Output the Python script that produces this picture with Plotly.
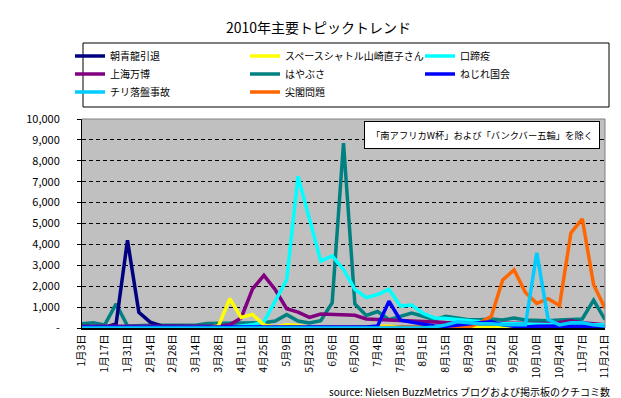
import plotly.graph_objects as go
import datetime as dt

# ---- data (weekly, 2010-01-03 .. 2010-11-21) ----
start = dt.date(2010, 1, 3)
n_weeks = 47
week_labels = [f"{(start + dt.timedelta(days=7*i)).month}月{(start + dt.timedelta(days=7*i)).day}日" for i in range(n_weeks)]

asashoryu = [50, 30, 30, 200, 4200, 750, 280, 100, 80, 60, 50, 50, 40, 40, 40, 30, 30, 30, 30, 30,
             30, 30, 30, 30, 30, 30, 30, 30, 30, 30, 30, 30, 30, 30, 30, 30, 30, 30, 80, 80,
             80, 80, 80, 60, 50, 50, 40]
shuttle = [20, 20, 20, 20, 20, 20, 20, 20, 20, 20, 20, 30, 100, 1400, 500, 650, 150, 50, 150, 120,
           30, 20, 20, 20, 20, 20, 80, 80, 20, 20, 20, 20, 20, 20, 20, 20, 20, 20, 20, 20,
           20, 20, 20, 20, 20, 20, 20]
koteieki = [0, 0, 0, 0, 0, 0, 0, 0, 0, 0, 0, 0, 0, 0, 100, 150, 300, 1300, 2300, 7250,
            5200, 3200, 3450, 2800, 1850, 1450, 1600, 1850, 1050, 1100, 700, 480, 450, 400, 350, 300, 250, 200, 200, 180,
            180, 170, 160, 160, 150, 150, 150]
shanghai = [80, 80, 80, 80, 80, 80, 80, 80, 80, 80, 80, 80, 80, 150, 480, 1870, 2520, 1830, 920, 760,
            510, 670, 640, 650, 610, 430, 400, 380, 350, 320, 300, 280, 260, 250, 240, 230, 220, 250, 200, 200,
            220, 230, 260, 350, 250, 200, 150]
hayabusa = [200, 250, 150, 1150, 100, 130, 130, 130, 130, 130, 130, 220, 230, 230, 230, 250, 250, 330, 640, 330,
            240, 350, 1200, 8850, 1150, 600, 790, 400, 560, 720, 560, 400, 560, 480, 400, 400, 430, 380, 480, 380,
            350, 350, 380, 400, 430, 1330, 400]
nejire = [50, 50, 50, 50, 50, 50, 50, 50, 50, 50, 50, 50, 50, 50, 50, 50, 50, 50, 50, 50,
          50, 50, 50, 50, 50, 50, 100, 1280, 370, 270, 200, 100, 80, 150, 200, 250, 300, 150, 80, 50,
          80, 100, 100, 80, 100, 80, 50]
chile = [0, 0, 0, 0, 0, 0, 0, 0, 0, 0, 0, 0, 0, 0, 0, 0, 0, 0, 0, 0,
         0, 0, 0, 0, 0, 0, 0, 0, 0, 0, 0, 50, 150, 300, 250, 200, 200, 150, 150, 150,
         3600, 400, 150, 250, 250, 150, 100]
senkaku = [0, 0, 0, 0, 0, 0, 0, 0, 0, 0, 0, 0, 0, 0, 0, 0, 0, 0, 0, 0,
           0, 0, 0, 0, 0, 0, 0, 0, 0, 0, 0, 0, 30, 50, 30, 250, 560, 2300, 2780, 1700,
           1180, 1400, 1080, 4550, 5220, 2070, 940]

series_names = ["朝青龍引退", "スペースシャトル山崎直子さん", "口蹄疫",
                "上海万博", "はやぶさ", "ねじれ国会",
                "チリ落盤事故", "尖閣問題"]
series_values = [asashoryu, shuttle, koteieki, shanghai, hayabusa, nejire, chile, senkaku]
series_colors = ["#000080", "#FFFF00", "#00FFFF", "#800080", "#008080", "#0000FF", "#00CCFF", "#FF6600"]
legend_rows = ["legend", "legend", "legend", "legend2", "legend2", "legend2", "legend3", "legend3"]
draw_order = [4, 0, 3, 2, 1, 7, 5, 6]

y_tickvals = list(range(0, 10001, 1000))
y_ticktext = ["-"] + [f"{v:,}" for v in y_tickvals[1:]]

FONT = "Noto Sans CJK JP"

# pixel geometry helpers
W, H = 621, 398
L, R, T, B = 74, 597, 111, 320
def px_x(px): return (px - L) / (R - L)
def px_y(py): return (B - py) / (B - T)

fig = go.Figure()
xs = list(range(n_weeks))
for k in draw_order:
    fig.add_trace(go.Scatter(
        x=xs, y=series_values[k], mode="lines", name=series_names[k],
        line=dict(color=series_colors[k], width=3.5),
        legend=legend_rows[k], legendrank=k + 1,
    ))

legend_common = dict(orientation="h", font=dict(family=FONT, size=10, color="black"),
                     bgcolor="rgba(0,0,0,0)", borderwidth=0, entrywidth=130,
                     entrywidthmode="pixels", xanchor="left", yanchor="middle",
                     itemclick=False, itemdoubleclick=False)

fig.update_layout(
    width=W, height=H,
    margin=dict(l=L, r=W - R, t=T, b=H - B, pad=0),
    paper_bgcolor="white", plot_bgcolor="#C0C0C0",
    font=dict(family=FONT, size=11, color="black"),
    title=dict(text="2010年主要トピックトレンド", x=0.5, xanchor="center",
               y=1 - 20 / H, yanchor="middle", font=dict(family=FONT, size=14, color="black")),
    showlegend=True,
    legend=dict(x=px_x(62), y=px_y(48), **legend_common),
    legend2=dict(x=px_x(62), y=px_y(66), **legend_common),
    legend3=dict(x=px_x(62), y=px_y(84), **legend_common),
    xaxis=dict(range=[0, n_weeks - 1], tickmode="array", tickvals=xs[::2],
               ticktext=week_labels[::2], tickangle=-90, showgrid=False, zeroline=False,
               showline=True, linecolor="black", linewidth=2, ticks="",
               tickfont=dict(family=FONT, size=10.5, color="black")),
    yaxis=dict(range=[0, 10000], tickmode="array", tickvals=y_tickvals, ticktext=y_ticktext,
               showgrid=True, gridcolor="black", gridwidth=1, griddash="4px,3px",
               zeroline=False, showline=True, linecolor="black", linewidth=1,
               ticks="outside", ticklen=4, tickcolor="black", ticklabelstandoff=15,
               tickfont=dict(family=FONT, size=11, color="black")),
    shapes=[
        dict(type="rect", xref="paper", yref="paper", x0=px_x(75), x1=px_x(601),
             y0=px_y(99), y1=px_y(35), line=dict(color="black", width=1), fillcolor="rgba(0,0,0,0)"),
        dict(type="line", xref="paper", yref="paper", x0=0, x1=1, y0=1, y1=1,
             line=dict(color="#808080", width=1)),
        dict(type="line", xref="paper", yref="paper", x0=1, x1=1, y0=0, y1=1,
             line=dict(color="#808080", width=1)),
    ],
    annotations=[
        dict(text="「南アフリカW杯」および「バンクバー五輪」を除く", xref="paper", yref="paper",
             x=px_x(474), y=px_y(127), xanchor="center", yanchor="middle", showarrow=False,
             font=dict(family=FONT, size=9.3, color="black"), bgcolor="white",
             bordercolor="black", borderwidth=1, borderpad=6),
        dict(text="source: Nielsen BuzzMetrics ブログおよび掲示板のクチコミ数", xref="paper", yref="paper",
             x=px_x(604), y=px_y(383), xanchor="right", yanchor="middle", showarrow=False,
             font=dict(family=FONT, size=10, color="black")),
    ],
)

fig.write_html("out.html")
